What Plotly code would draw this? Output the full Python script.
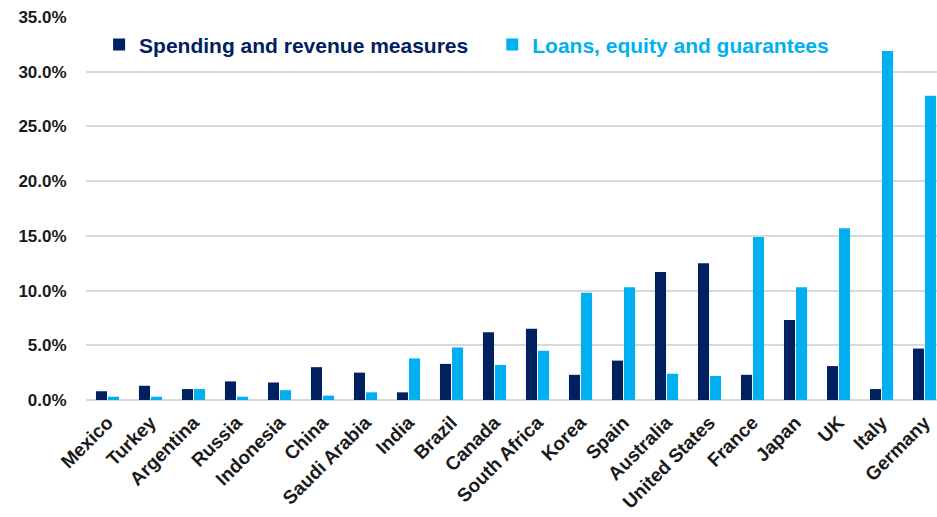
import plotly.graph_objects as go

countries = ["Mexico", "Turkey", "Argentina", "Russia", "Indonesia", "China",
             "Saudi Arabia", "India", "Brazil", "Canada", "South Africa", "Korea",
             "Spain", "Australia", "United States", "France", "Japan", "UK",
             "Italy", "Germany"]
spending = [0.8, 1.3, 1.0, 1.7, 1.6, 3.0, 2.5, 0.7, 3.3, 6.2, 6.5, 2.3,
            3.6, 11.7, 12.5, 2.3, 7.3, 3.1, 1.0, 4.7]
loans = [0.3, 0.3, 1.0, 0.3, 0.9, 0.4, 0.7, 3.8, 4.8, 3.2, 4.5, 9.8,
         10.3, 2.4, 2.2, 14.9, 10.3, 15.7, 31.9, 27.8]
tick_vals = [0, 5, 10, 15, 20, 25, 30, 35]
tick_text = [f"{v:.1f}%" for v in tick_vals]

dark = "#002060"
light = "#00B0F0"
font_family = "Liberation Sans, Arial, sans-serif"

fig = go.Figure()
fig.add_trace(go.Bar(x=countries, y=spending, name="Spending and revenue measures",
                     marker=dict(color=dark, line=dict(width=0)), legend="legend"))
fig.add_trace(go.Bar(x=countries, y=loans, name="Loans, equity and guarantees",
                     marker=dict(color=light, line=dict(width=0)), legend="legend2"))

fig.update_layout(
    width=937, height=517,
    margin=dict(l=86, r=0, t=17, b=117),
    paper_bgcolor="white", plot_bgcolor="white",
    barmode="group", bargap=0.44, bargroupgap=0.08,
    font=dict(family=font_family, size=17, color="#1a1a1a"),
    showlegend=True,
    legend=dict(x=0.0154, y=0.927, xanchor="left", yanchor="middle",
                bgcolor="rgba(0,0,0,0)",
                font=dict(family=font_family, size=21, color=dark, weight="bold")),
    legend2=dict(x=0.4774, y=0.927, xanchor="left", yanchor="middle",
                 bgcolor="rgba(0,0,0,0)",
                 font=dict(family=font_family, size=21, color=light, weight="bold")),
    xaxis=dict(range=[-0.5, 19.29], tickangle=-45, showgrid=False, automargin=False,
               tickfont=dict(family=font_family, size=19, color="#1a1a1a", weight="bold"),
               showline=False, ticks="outside", ticklen=3, tickcolor="rgba(0,0,0,0)"),
    yaxis=dict(range=[0, 35], tickmode="array", tickvals=tick_vals, ticktext=tick_text,
               automargin=False,
               showgrid=True, gridcolor="#D9D9D9", gridwidth=1.5,
               zeroline=True, zerolinecolor="#D9D9D9", zerolinewidth=2,
               ticks="outside", ticklen=15, tickcolor="rgba(0,0,0,0)",
               tickfont=dict(family=font_family, size=17, color="#1a1a1a", weight="bold")),
)

fig.write_html("out.html",
               config={"displayModeBar": False},
               post_script="document.body.style.margin='0';document.body.style.overflow='hidden';")
